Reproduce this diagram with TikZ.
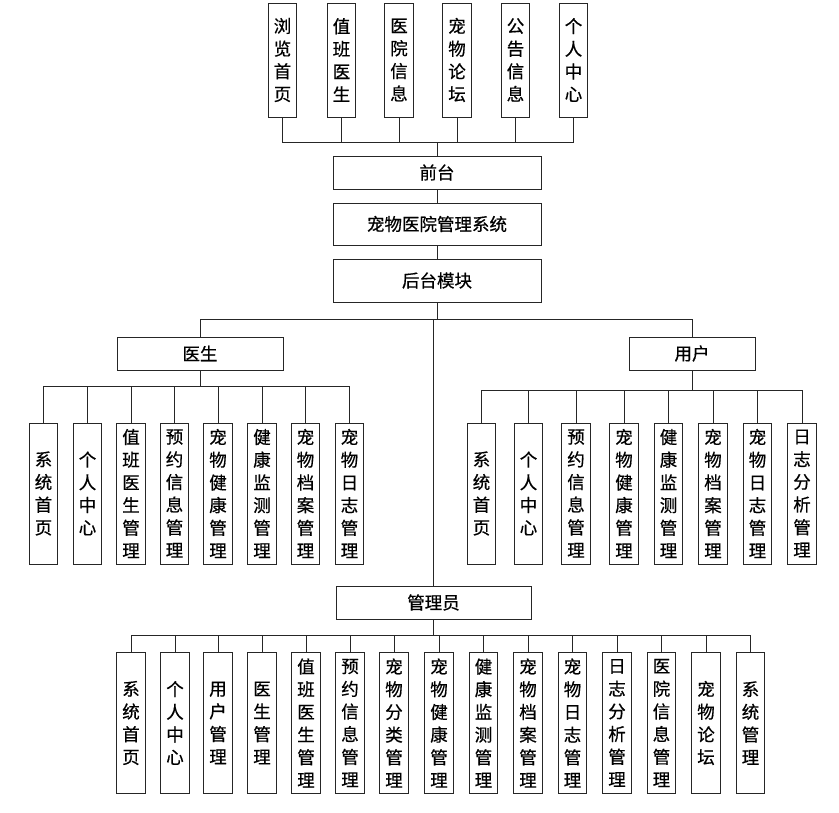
\documentclass[tikz,border=0pt]{standalone}
\usepackage{fontspec}
\newfontfamily\cjk[FakeBold=0.6]{Noto Sans CJK SC}
\begin{document}
\begin{tikzpicture}[x=1pt,y=-1pt,
  every node/.style={draw=black!85,line width=0.9pt,inner sep=0pt,align=center,font={\cjk\fontsize{17.5}{22.7}\selectfont}},
  vbox/.style={minimum width=28.5pt},
  topbox/.style={vbox,minimum height=114pt},
  leafbox/.style={vbox,minimum height=141pt},
  wide/.style={minimum width=208pt},
  conn/.style={draw=black!85,line width=0.9pt}]
\useasboundingbox (0,0) rectangle (839,813);
% top row
\node[topbox] (t1) at (282.5,60) {浏\\览\\首\\页};
\node[topbox] (t2) at (341.5,60) {值\\班\\医\\生};
\node[topbox] (t3) at (399,60) {医\\院\\信\\息};
\node[topbox] (t4) at (457,60) {宠\\物\\论\\坛};
\node[topbox] (t5) at (515.5,60) {公\\告\\信\\息};
\node[topbox] (t6) at (573.5,60) {个\\人\\中\\心};
\node[wide,minimum height=33pt] (front) at (437,172.5) {前台};
\node[wide,minimum height=42pt] (sys) at (437,224) {宠物医院管理系统};
\node[wide,minimum height=43pt] (back) at (437,280.5) {后台模块};
\coordinate (tbus) at (0,142);
\draw[conn] (t1.south) -- (t1.south |- tbus) -- (t6.south |- tbus) -- (t6.south);
\foreach \n in {t2,t3,t4,t5} \draw[conn] (\n.south) -- (\n.south |- tbus);
\draw[conn] (front.north) -- (front.north |- tbus);
\draw[conn] (front) -- (sys);
\draw[conn] (sys) -- (back);
% second level
\node[minimum width=166pt,minimum height=33pt] (doc) at (200,353.5) {医生};
\node[minimum width=126pt,minimum height=33pt] (usr) at (692,353.5) {用户};
\node[minimum width=195pt,minimum height=33pt] (adm) at (433.5,602.5) {管理员};
\coordinate (mbus) at (0,319);
\draw[conn] (doc.north) -- (doc.north |- mbus) -- (usr.north |- mbus) -- (usr.north);
\draw[conn] (back.south) -- (back.south |- mbus);
\draw[conn] (adm.north) -- (adm.north |- mbus);
% doctor children
\node[leafbox] (d1) at (43.5,493.5) {系\\统\\首\\页};
\node[leafbox] (d2) at (87.5,493.5) {个\\人\\中\\心};
\node[leafbox] (d3) at (131,493.5) {值\\班\\医\\生\\管\\理};
\node[leafbox] (d4) at (174.5,493.5) {预\\约\\信\\息\\管\\理};
\node[leafbox] (d5) at (218,493.5) {宠\\物\\健\\康\\管\\理};
\node[leafbox] (d6) at (262,493.5) {健\\康\\监\\测\\管\\理};
\node[leafbox] (d7) at (305.5,493.5) {宠\\物\\档\\案\\管\\理};
\node[leafbox] (d8) at (349.5,493.5) {宠\\物\\日\\志\\管\\理};
\coordinate (dbus) at (0,386);
\draw[conn] (doc.south) -- (doc.south |- dbus);
\draw[conn] (d1.north) -- (d1.north |- dbus) -- (d8.north |- dbus) -- (d8.north);
\foreach \n in {d2,d3,d4,d5,d6,d7} \draw[conn] (\n.north) -- (\n.north |- dbus);
% user children
\node[leafbox] (u1) at (481.5,493.5) {系\\统\\首\\页};
\node[leafbox] (u2) at (528.5,493.5) {个\\人\\中\\心};
\node[leafbox] (u3) at (576,493.5) {预\\约\\信\\息\\管\\理};
\node[leafbox] (u4) at (624,493.5) {宠\\物\\健\\康\\管\\理};
\node[leafbox] (u5) at (668.5,493.5) {健\\康\\监\\测\\管\\理};
\node[leafbox] (u6) at (713,493.5) {宠\\物\\档\\案\\管\\理};
\node[leafbox] (u7) at (757.5,493.5) {宠\\物\\日\\志\\管\\理};
\node[leafbox] (u8) at (802,493.5) {日\\志\\分\\析\\管\\理};
\coordinate (ubus) at (0,390);
\draw[conn] (usr.south) -- (usr.south |- ubus);
\draw[conn] (u1.north) -- (u1.north |- ubus) -- (u8.north |- ubus) -- (u8.north);
\foreach \n in {u2,u3,u4,u5,u6,u7} \draw[conn] (\n.north) -- (\n.north |- ubus);
% admin children
\node[leafbox] (a1) at (131,723) {系\\统\\首\\页};
\node[leafbox] (a2) at (175,723) {个\\人\\中\\心};
\node[leafbox] (a3) at (218,723) {用\\户\\管\\理};
\node[leafbox] (a4) at (262,723) {医\\生\\管\\理};
\node[leafbox] (a5) at (306,723) {值\\班\\医\\生\\管\\理};
\node[leafbox] (a6) at (350,723) {预\\约\\信\\息\\管\\理};
\node[leafbox] (a7) at (394,723) {宠\\物\\分\\类\\管\\理};
\node[leafbox] (a8) at (439,723) {宠\\物\\健\\康\\管\\理};
\node[leafbox] (a9) at (483.5,723) {健\\康\\监\\测\\管\\理};
\node[leafbox] (a10) at (528,723) {宠\\物\\档\\案\\管\\理};
\node[leafbox] (a11) at (572.5,723) {宠\\物\\日\\志\\管\\理};
\node[leafbox] (a12) at (617,723) {日\\志\\分\\析\\管\\理};
\node[leafbox] (a13) at (661.5,723) {医\\院\\信\\息\\管\\理};
\node[leafbox] (a14) at (706,723) {宠\\物\\论\\坛};
\node[leafbox] (a15) at (750.5,723) {系\\统\\管\\理};
\coordinate (abus) at (0,635);
\draw[conn] (adm.south) -- (adm.south |- abus);
\draw[conn] (a1.north) -- (a1.north |- abus) -- (a15.north |- abus) -- (a15.north);
\foreach \n in {a2,a3,a4,a5,a6,a7,a8,a9,a10,a11,a12,a13,a14} \draw[conn] (\n.north) -- (\n.north |- abus);
\end{tikzpicture}
\end{document}
